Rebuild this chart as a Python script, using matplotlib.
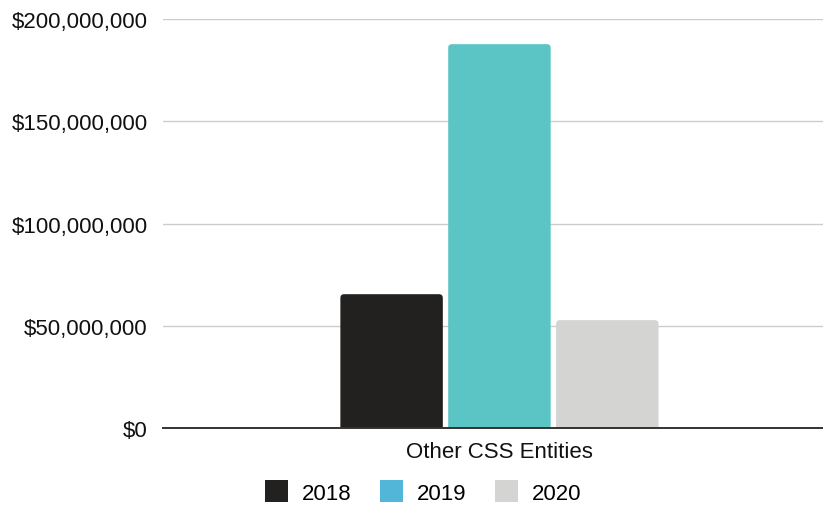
import matplotlib.pyplot as plt
from matplotlib.patches import Patch, FancyBboxPatch
from matplotlib.ticker import FuncFormatter

categories = ["Other CSS Entities"]
years = ["2018", "2019", "2020"]
values = [65.5e6, 187.8e6, 52.8e6]
bar_colors = ["#222120", "#5bc4c4", "#d4d4d3"]
legend_colors = ["#222120", "#52b6d8", "#d4d4d3"]

plt.rcParams["font.family"] = ["Liberation Sans", "DejaVu Sans"]

fig = plt.figure(figsize=(8.23, 5.06), dpi=100)
ax = fig.add_axes([0.198, 0.152, 0.802, 0.808])

offsets = [-1, 0, 1]
width = 0.95
# y units per x unit, so the corner radius looks round on screen
aspect = (200e6 / 409) / (1 / 108)
for off, v, c in zip(offsets, values, bar_colors):
    # rounded top corners, bottom hidden below the axis
    ax.add_patch(FancyBboxPatch((off - width / 2, -5e6), width, v + 5e6,
                                boxstyle="round,pad=0,rounding_size=0.035",
                                mutation_aspect=aspect,
                                facecolor=c, edgecolor="none", zorder=3,
                                clip_on=True))

ax.set_xlim(-3.12, 3.0)
ax.set_ylim(0, 200e6)
ax.set_yticks([0, 50e6, 100e6, 150e6, 200e6])
ax.yaxis.set_major_formatter(FuncFormatter(lambda v, p: "${:,.0f}".format(v)))
ax.set_xticks([0])
ax.set_xticklabels(categories)
ax.tick_params(axis="both", length=0, labelsize=16, colors="#111111")
ax.tick_params(axis="x", pad=9)
ax.tick_params(axis="y", pad=11)

ax.grid(axis="y", color="#cccccc", linewidth=1.0, zorder=0)
for s in ["top", "right", "left"]:
    ax.spines[s].set_visible(False)
ax.spines["bottom"].set_color("#333333")
ax.spines["bottom"].set_linewidth(1.4)
ax.spines["bottom"].set_zorder(4)

handles = [Patch(facecolor=c, label=y) for c, y in zip(legend_colors, years)]
fig.legend(handles=handles, loc="center", bbox_to_anchor=(423 / 823, 1 - 493 / 506),
           ncol=3, frameon=False, fontsize=16, handlelength=1.05, handleheight=1.1,
           handletextpad=0.6, columnspacing=1.3)

fig.savefig("out.png", dpi=100)
